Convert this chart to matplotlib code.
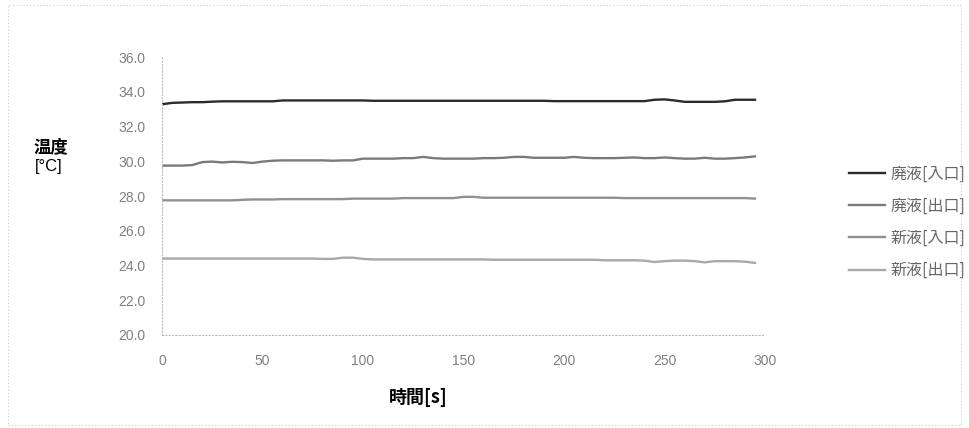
import matplotlib.pyplot as plt
from matplotlib.patches import Rectangle

plt.rcParams['font.family'] = ['Noto Sans CJK JP', 'DejaVu Sans']

# time axis, sampled every 5 s
t = list(range(0, 300, 5))

haieki_in = [33.28, 33.36, 33.38, 33.40, 33.40, 33.43, 33.45, 33.45, 33.45, 33.45,
             33.45, 33.45, 33.50, 33.50, 33.50, 33.50, 33.50, 33.50, 33.50, 33.50,
             33.50, 33.48, 33.48, 33.48, 33.48, 33.48, 33.48, 33.48, 33.48, 33.48,
             33.48, 33.48, 33.48, 33.48, 33.48, 33.48, 33.48, 33.48, 33.48, 33.46,
             33.46, 33.46, 33.46, 33.46, 33.46, 33.46, 33.46, 33.46, 33.46, 33.54,
             33.56, 33.50, 33.42, 33.42, 33.42, 33.42, 33.45, 33.54, 33.54, 33.54]
haieki_out = [29.75, 29.75, 29.75, 29.78, 29.95, 29.98, 29.93, 29.97, 29.95, 29.90,
              29.98, 30.03, 30.05, 30.05, 30.05, 30.05, 30.05, 30.03, 30.05, 30.05,
              30.15, 30.15, 30.15, 30.15, 30.18, 30.18, 30.25, 30.18, 30.15, 30.15,
              30.15, 30.15, 30.18, 30.18, 30.20, 30.25, 30.25, 30.20, 30.20, 30.20,
              30.20, 30.25, 30.20, 30.18, 30.18, 30.18, 30.20, 30.22, 30.18, 30.18,
              30.22, 30.18, 30.15, 30.15, 30.20, 30.15, 30.15, 30.18, 30.22, 30.28]
shineki_in = [27.75, 27.75, 27.75, 27.75, 27.75, 27.75, 27.75, 27.75, 27.78, 27.80,
              27.80, 27.80, 27.82, 27.82, 27.82, 27.82, 27.82, 27.82, 27.82, 27.85,
              27.85, 27.85, 27.85, 27.85, 27.88, 27.88, 27.88, 27.88, 27.88, 27.88,
              27.95, 27.95, 27.90, 27.90, 27.90, 27.90, 27.90, 27.90, 27.90, 27.90,
              27.90, 27.90, 27.90, 27.90, 27.90, 27.90, 27.88, 27.88, 27.88, 27.88,
              27.88, 27.88, 27.88, 27.88, 27.88, 27.88, 27.88, 27.88, 27.88, 27.85]
shineki_out = [24.40, 24.40, 24.40, 24.40, 24.40, 24.40, 24.40, 24.40, 24.40, 24.40,
               24.40, 24.40, 24.40, 24.40, 24.40, 24.40, 24.38, 24.38, 24.45, 24.45,
               24.38, 24.35, 24.35, 24.35, 24.35, 24.35, 24.35, 24.35, 24.35, 24.35,
               24.35, 24.35, 24.35, 24.33, 24.33, 24.33, 24.33, 24.33, 24.33, 24.33,
               24.33, 24.33, 24.33, 24.33, 24.30, 24.30, 24.30, 24.30, 24.28, 24.20,
               24.25, 24.28, 24.28, 24.25, 24.18, 24.25, 24.25, 24.25, 24.22, 24.15]

series = [haieki_in, haieki_out, shineki_in, shineki_out]
names = ['廃液[入口]', '廃液[出口]', '新液[入口]', '新液[出口]']
colors = ['#2b2b2b', '#7a7a7a', '#909090', '#a8a8a8']

yticks = [20.0, 22.0, 24.0, 26.0, 28.0, 30.0, 32.0, 34.0, 36.0]
xticks = [0, 50, 100, 150, 200, 250, 300]

fig = plt.figure(figsize=(9.69, 4.28), dpi=100)
ax = fig.add_axes([0.1672, 0.2173, 0.6223, 0.6495])

for y, name, c in zip(series, names, colors):
    ax.plot(t, y, color=c, lw=1.7, label=name)

ax.set_xlim(0, 300)
ax.set_ylim(20, 36)
ax.set_xticks(xticks)
ax.set_yticks(yticks)
ax.set_yticklabels(['%.1f' % v for v in yticks])
ax.tick_params(length=0, labelsize=10, labelcolor='#808080', pad=14)
ax.tick_params(axis='y', pad=12)
for lab in ax.get_xticklabels() + ax.get_yticklabels():
    lab.set_family(['Liberation Sans', 'DejaVu Sans'])

for s in ['top', 'right']:
    ax.spines[s].set_visible(False)
for s in ['left', 'bottom']:
    ax.spines[s].set_color('#bbbbbb')
    ax.spines[s].set_linestyle((0, (1, 2)))
    ax.spines[s].set_linewidth(0.8)

fig.text(0.035, 0.655, '温度', fontsize=12.5, color='black', weight='bold', va='center')
fig.text(0.036, 0.61, '[°C]', fontsize=12, color='black', va='center',
         family=['Liberation Sans', 'DejaVu Sans'])
fig.text(0.432, 0.072, '時間[s]', fontsize=13, color='black', ha='center',
         va='center', weight='bold')

ax.legend(loc='center left', bbox_to_anchor=(1.115, 0.405), frameon=False,
          fontsize=11.5, labelcolor='#666666', handlelength=2.3,
          handletextpad=0.3, labelspacing=0.95)

fig.patches.append(Rectangle((0.008, 0.008), 0.984, 0.98, transform=fig.transFigure,
                             fill=False, edgecolor='#cccccc', lw=0.8,
                             linestyle=(0, (1, 2))))

plt.savefig('out.png', dpi=100)
